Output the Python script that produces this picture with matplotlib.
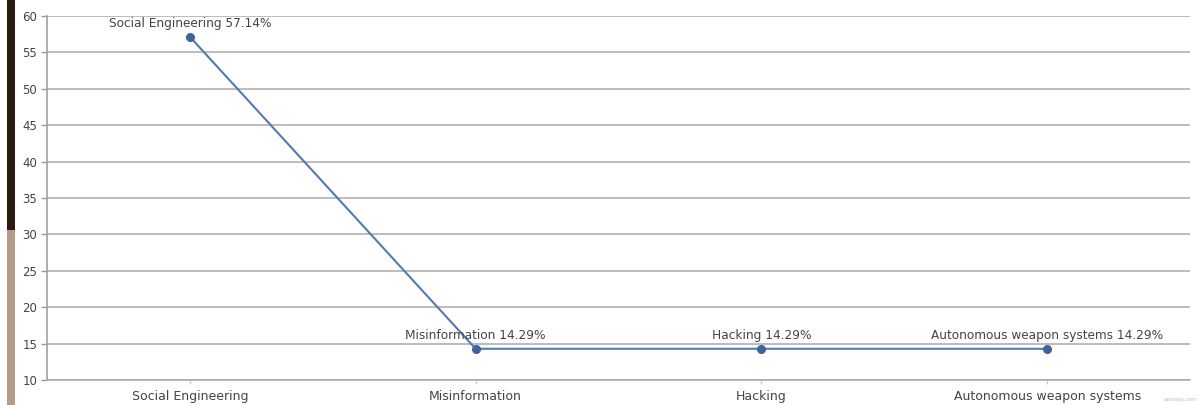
import matplotlib
matplotlib.use("Agg")
import matplotlib.pyplot as plt
from matplotlib.patches import Rectangle

categories = ["Social Engineering", "Misinformation", "Hacking", "Autonomous weapon systems"]
values = [57.14, 14.29, 14.29, 14.29]
yticks = [10, 15, 20, 25, 30, 35, 40, 45, 50, 55, 60]

W, H = 1199, 405
fig = plt.figure(figsize=(W / 100, H / 100), dpi=100)
fig.patch.set_facecolor("white")

# left background strip from the screenshot
fig.add_artist(Rectangle((7 / W, 1 - 230 / H), 8 / W, 230 / H, transform=fig.transFigure,
                         facecolor="#2b1a12", edgecolor="none"))
fig.add_artist(Rectangle((7 / W, 0), 8 / W, 1 - 230 / H, transform=fig.transFigure,
                         facecolor="#b39d88", edgecolor="none"))

ax = fig.add_axes([47 / W, 1 - 380 / H, (1190 - 47) / W, (380 - 16) / H])
x = list(range(len(categories)))
ax.plot(x, values, color="#5479b2", linewidth=1.5, marker="o", markersize=5.5,
        markerfacecolor="#3f639c", markeredgecolor="#3f639c", zorder=3)

for xi, v, c in zip(x, values, categories):
    ax.annotate(f"{c} {v:.2f}%", (xi, v), xytext=(0, 5), textcoords="offset points",
                ha="center", va="bottom", fontsize=8.7, color="#444444", zorder=4)

ax.set_xlim(-0.5, len(categories) - 0.5)
ax.set_ylim(10, 60)
ax.set_yticks(yticks)
ax.set_yticklabels([str(t) for t in yticks], fontsize=8.5, color="#444444")
ax.set_xticks(x)
ax.set_xticklabels(categories, fontsize=9, color="#444444")
ax.tick_params(axis="y", length=4, width=1, color="#999999", pad=3)
ax.tick_params(axis="x", length=3, width=1, color="#cccccc", pad=4)
ax.yaxis.grid(True, color="#aaaaaa", linewidth=1.1)
ax.set_axisbelow(True)
for s in ["top", "right"]:
    ax.spines[s].set_visible(False)
ax.spines["left"].set_color("#a0a0a0")
ax.spines["left"].set_linewidth(1.2)
ax.spines["bottom"].set_color("#aaaaaa")
ax.spines["bottom"].set_linewidth(1.1)

fig.text(1197 / W, 1 - 399 / H, "canvasjs.com", fontsize=3.5, color="#bbbbbb", ha="right", va="center")

fig.savefig("out.png", dpi=100)
